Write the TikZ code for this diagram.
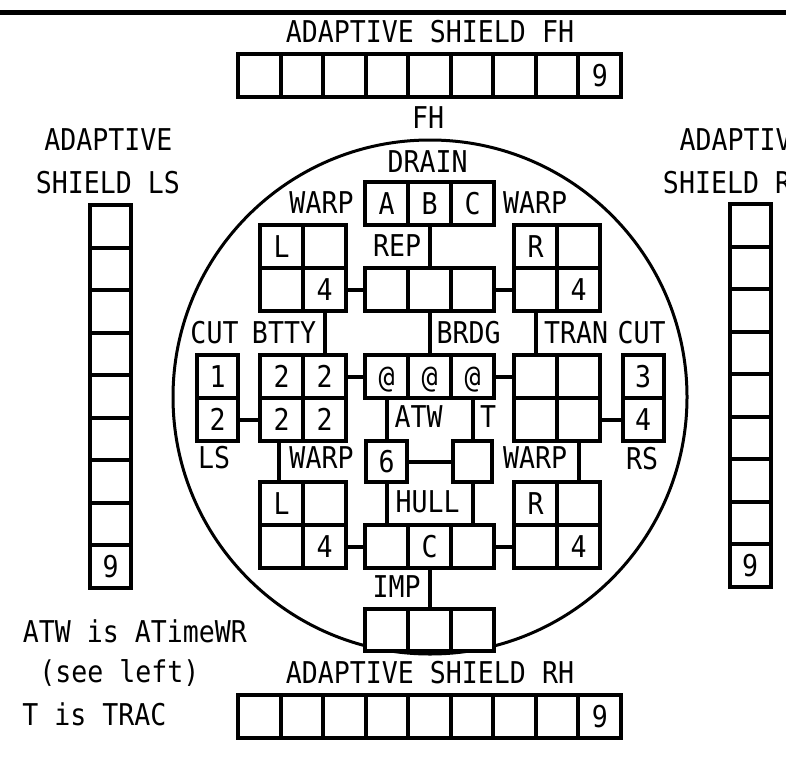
\documentclass[tikz,border=0pt]{standalone}
\usepackage{fontspec}
\newfontfamily\pxf[FakeStretch=0.886]{DejaVu Sans Mono}
\newcommand\pxfont{\pxf\fontsize{30}{30}\selectfont}
\tikzset{
  cell/.style={draw, line width=4pt, minimum width=43pt, minimum height=43pt,
    inner sep=0pt, text height=22pt, text depth=0pt, font=\pxfont},
  hcell/.style={cell, minimum width=42.56pt},
  vcell/.style={cell, minimum width=41pt, minimum height=42.56pt},
  lbl/.style={inner sep=0pt, anchor=base, font=\pxfont},
  wire/.style={line width=4pt},
}
\begin{document}
\begin{tikzpicture}[x=1pt,y=-1pt]
\useasboundingbox (0,0) rectangle (786,768);
\clip (0,0) rectangle (786,768);
% top rule
\draw[line width=5pt] (0,12.5) -- (786,12.5);
% hull circle
\draw[line width=3pt] (430,397) circle[radius=257pt];

% ---- shields ----
\node[lbl] (fhlab) at (430,43) {ADAPTIVE SHIELD FH};
\foreach \i in {1,...,8} \node[hcell] (fh\i) at ({238+42.56*(\i-0.5)},75.5) {};
\node[hcell] (fh9) at ({238+42.56*8.5},75.5) {9};

\node[lbl] (rhlab) at (430,683) {ADAPTIVE SHIELD RH};
\foreach \i in {1,...,8} \node[hcell] (rh\i) at ({238+42.56*(\i-0.5)},716) {};
\node[hcell] (rh9) at ({238+42.56*8.5},716) {9};

\node[lbl] (lslab1) at (108.5,150) {ADAPTIVE};
\node[lbl] (lslab2) at (108,193) {SHIELD LS};
\foreach \i in {1,...,8} \node[vcell] (ls\i) at (110.5,{205+42.56*(\i-0.5)}) {};
\node[vcell] (ls9) at (110.5,{205+42.56*8.5}) {9};

\node[lbl] (rslab1) at (743.5,150) {ADAPTIVE};
\node[lbl] (rslab2) at (735,193) {SHIELD RS};
\foreach \i in {1,...,8} \node[vcell] (rs\i) at (750,{204+42.56*(\i-0.5)}) {};
\node[vcell] (rs9) at (750,{204+42.56*8.5}) {9};

% ---- interior labels ----
\node[lbl] (fhl) at (428,128) {FH};
\node[lbl] (drainl) at (427.5,172) {DRAIN};
\node[lbl] (warplt) at (321.5,213) {WARP};
\node[lbl] (warprt) at (535,213) {WARP};
\node[lbl] (repl) at (397,256) {REP};
\node[lbl] (cutll) at (214.5,343) {CUT};
\node[lbl] (bttyl) at (284,343) {BTTY};
\node[lbl] (brdgl) at (468.5,343) {BRDG};
\node[lbl] (tranl) at (576,343) {TRAN};
\node[lbl] (cutrl) at (641.5,343) {CUT};
\node[lbl] (lsl) at (214,468) {LS};
\node[lbl] (rsl) at (642,469) {RS};
\node[lbl] (atwl) at (418.5,427) {ATW};
\node[lbl] (tl) at (488,427) {T};
\node[lbl] (warplb) at (321.5,468) {WARP};
\node[lbl] (warprb) at (535,468) {WARP};
\node[lbl] (hulll) at (427.5,512) {HULL};
\node[lbl] (impl) at (396.5,597) {IMP};

% ---- interior cells ----
\node[cell] (drain1) at (386.5,203.5) {A};
\node[cell] (drain2) at (429.5,203.5) {B};
\node[cell] (drain3) at (472.5,203.5) {C};

\node[cell] (wlt1) at (281.5,246.5) {L};
\node[cell] (wlt2) at (324.5,246.5) {};
\node[cell] (wlt3) at (281.5,289.5) {};
\node[cell] (wlt4) at (324.5,289.5) {4};

\node[cell] (wrt1) at (535.5,246.5) {R};
\node[cell] (wrt2) at (578.5,246.5) {};
\node[cell] (wrt3) at (535.5,289.5) {};
\node[cell] (wrt4) at (578.5,289.5) {4};

\node[cell] (rep1) at (386.5,289.5) {};
\node[cell] (rep2) at (429.5,289.5) {};
\node[cell] (rep3) at (472.5,289.5) {};

\node[cell, minimum width=41pt] (cutl1) at (217.5,376.5) {1};
\node[cell, minimum width=41pt] (cutl2) at (217.5,419.5) {2};

\node[cell] (btty1) at (281.5,376.5) {2};
\node[cell] (btty2) at (324.5,376.5) {2};
\node[cell] (btty3) at (281.5,419.5) {2};
\node[cell] (btty4) at (324.5,419.5) {2};

\node[cell] (at1) at (386.5,376.5) {@};
\node[cell] (at2) at (429.5,376.5) {@};
\node[cell] (at3) at (472.5,376.5) {@};

\node[cell] (tran1) at (535.5,376.5) {};
\node[cell] (tran2) at (578.5,376.5) {};
\node[cell] (tran3) at (535.5,419.5) {};
\node[cell] (tran4) at (578.5,419.5) {};

\node[cell, minimum width=41pt] (cutr1) at (643,376.5) {3};
\node[cell, minimum width=41pt] (cutr2) at (643,419.5) {4};

\node[cell, minimum width=41pt, minimum height=41pt] (six) at (386.5,461.5) {6};
\node[cell, minimum width=39pt, minimum height=41pt] (tbox) at (472.5,461.5) {};

\node[cell] (wlb1) at (281.5,503.5) {L};
\node[cell] (wlb2) at (324.5,503.5) {};
\node[cell] (wlb3) at (281.5,546.5) {};
\node[cell] (wlb4) at (324.5,546.5) {4};

\node[cell] (hull1) at (386.5,546.5) {};
\node[cell] (hull2) at (429.5,546.5) {C};
\node[cell] (hull3) at (472.5,546.5) {};

\node[cell] (wrb1) at (535.5,503.5) {R};
\node[cell] (wrb2) at (578.5,503.5) {};
\node[cell] (wrb3) at (535.5,546.5) {};
\node[cell] (wrb4) at (578.5,546.5) {4};

\node[cell, fill=white, minimum height=42pt] (imp1) at (386.5,630) {};
\node[cell, fill=white, minimum height=42pt] (imp2) at (429.5,630) {};
\node[cell, fill=white, minimum height=42pt] (imp3) at (472.5,630) {};

% ---- connectors ----
\draw[wire] (wlt4.east) -- (rep1.west);
\draw[wire] (rep3.east) -- (wrt3.west);
\draw[wire] (rep2.north) -- (drain2.south);
\draw[wire] (wlt4.south) -- (btty2.north);
\draw[wire] (rep2.south) -- (at2.north);
\draw[wire] (wrt3.south) -- (tran1.north);
\draw[wire] (btty2.east) -- (at1.west);
\draw[wire] (at3.east) -- (tran1.west);
\draw[wire] (cutl2.east) -- (btty3.west);
\draw[wire] (tran4.east) -- (cutr2.west);
\draw[wire] (at1.south) -- (six.north);
\draw[wire] (at3.south) -- (tbox.north);
\draw[wire] (six.east) -- (tbox.west);
\draw[wire] ([xshift=-3pt]btty3.south) -- ([xshift=-3pt]wlb1.north);
\draw[wire] (tran4.south) -- (wrb2.north);
\draw[wire] (six.south) -- (hull1.north);
\draw[wire] (tbox.south) -- (hull3.north);
\draw[wire] (wlb4.east) -- (hull1.west);
\draw[wire] (hull3.east) -- (wrb3.west);
\draw[wire] (hull2.south) -- (imp2.north);

% ---- notes ----
\node[lbl] (note1) at (135,642) {ATW is ATimeWR};
\node[lbl] (note2) at (119.5,682) {(see left)};
\node[lbl] (note3) at (94.5,725) {T is TRAC};
\end{tikzpicture}
\end{document}
